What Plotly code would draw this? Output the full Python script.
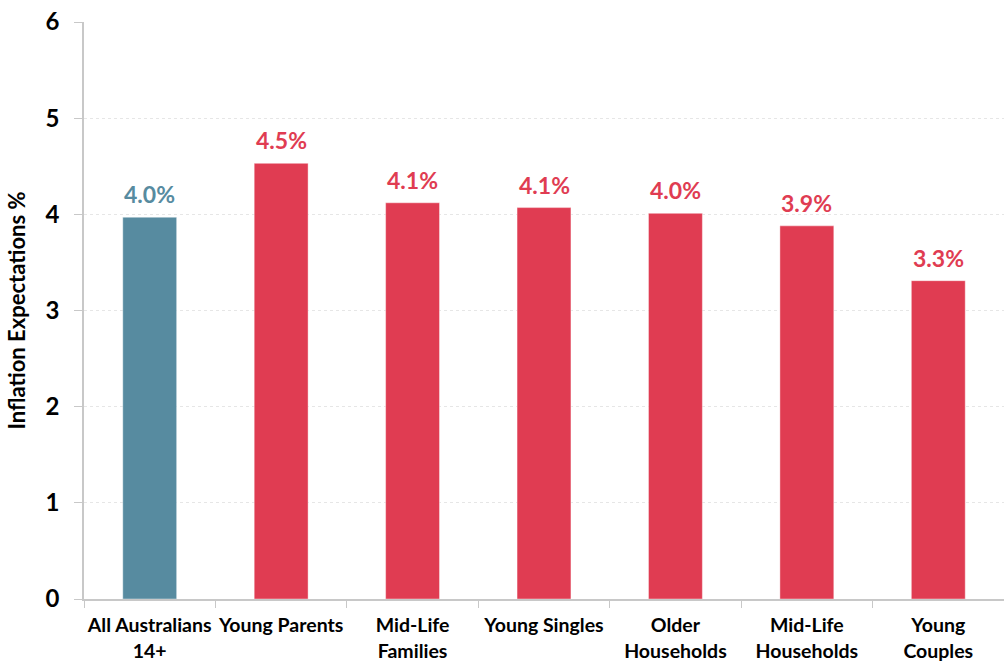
import plotly.graph_objects as go

categories = ["All Australians<br>14+", "Young Parents", "Mid-Life<br>Families", "Young Singles",
              "Older<br>Households", "Mid-Life<br>Households", "Young<br>Couples"]
values = [3.97, 4.53, 4.12, 4.07, 4.01, 3.88, 3.31]
bar_colors = ["#578BA0", "#E03C52", "#E03C52", "#E03C52", "#E03C52", "#E03C52", "#E03C52"]
y_ticks = [0, 1, 2, 3, 4, 5, 6]

FONT = "Lato, 'Open Sans', sans-serif"

fig = go.Figure()
fig.add_trace(go.Bar(
    x=categories, y=values,
    marker=dict(color=bar_colors, line=dict(color="rgba(255,255,255,0.4)", width=1)),
    hoverinfo="skip",
))

for c, v, col in zip(categories, values, bar_colors):
    fig.add_annotation(x=c, y=v, text=f"{v:.1f}%", showarrow=False,
                       yanchor="bottom", yshift=7,
                       font=dict(family=FONT, size=23, color=col, weight="bold"))

fig.update_layout(
    width=1004, height=662,
    margin=dict(l=84, r=0, t=22, b=63, autoexpand=False),
    paper_bgcolor="white", plot_bgcolor="white",
    bargap=0.59,
    showlegend=False,
    font=dict(family=FONT, color="black"),
)
fig.update_xaxes(
    type="category", tickson="boundaries", tickangle=0, automargin=False,
    ticks="outside", ticklen=7, tickcolor="#c8c8c8",
    showline=True, linecolor="#c8c8c8", linewidth=1.5,
    ticklabelstandoff=8,
    tickfont=dict(family=FONT, size=19.5, color="black", weight="bold"),
    showgrid=False,
)
fig.update_yaxes(
    range=[0, 6], tickvals=y_ticks, automargin=False,
    ticks="outside", ticklen=8, tickcolor="#c8c8c8",
    showline=True, linecolor="#c8c8c8", linewidth=1.5,
    showgrid=True, gridcolor="#e6e6e6", griddash="dot", gridwidth=1,
    zeroline=False,
    ticklabelstandoff=10,
    tickfont=dict(family=FONT, size=24, color="black", weight="bold"),
    title=dict(text="Inflation Expectations %", standoff=14,
               font=dict(family=FONT, size=22, color="black", weight="bold")),
)

fig.write_html("out.html")
